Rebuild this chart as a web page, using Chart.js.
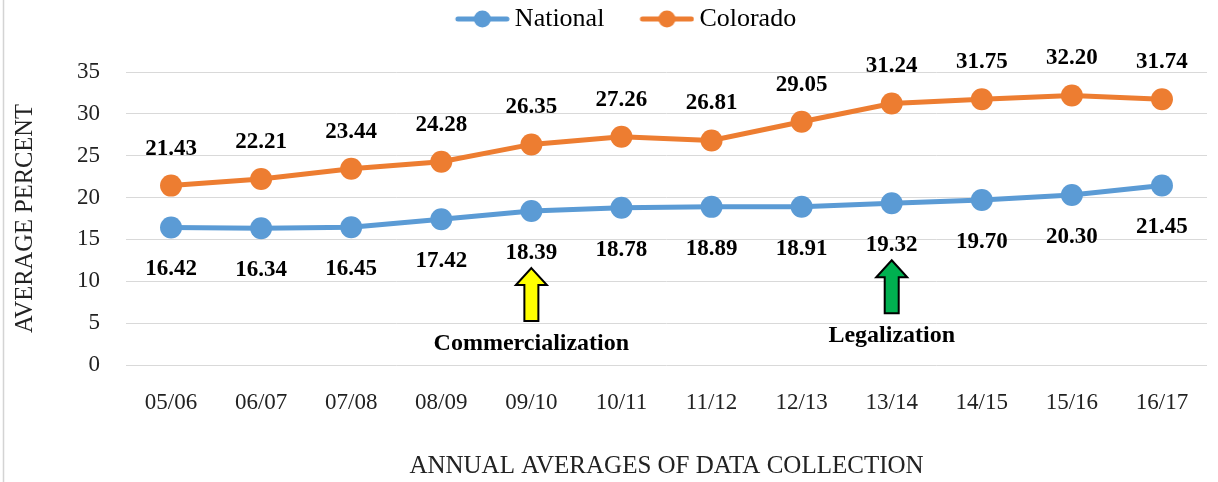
<!DOCTYPE html>
<html>
<head>
<meta charset="utf-8">
<script src="https://cdn.jsdelivr.net/npm/chart.js"></script>
<style>
  html, body { margin: 0; padding: 0; background: #ffffff; }
  #wrap { width: 1218px; height: 482px; }
  canvas { display: block; background: #ffffff; }
</style>
</head>
<body>
<div id="wrap"><canvas id="c" width="1218" height="482"></canvas></div>
<script>
const categories = ['05/06', '06/07', '07/08', '08/09', '09/10', '10/11', '11/12', '12/13', '13/14', '14/15', '15/16', '16/17'];
const nationalValues = [16.42, 16.34, 16.45, 17.42, 18.39, 18.78, 18.89, 18.91, 19.32, 19.70, 20.30, 21.45];
const coloradoValues = [21.43, 22.21, 23.44, 24.28, 26.35, 27.26, 26.81, 29.05, 31.24, 31.75, 32.20, 31.74];
const yMin = 0;
const yMax = 35;
const yStep = 5;
const annotationLabels = ['Commercialization', 'Legalization'];
const annotationCategories = ['09/10', '13/14'];

const SERIF = '"Liberation Serif", "Times New Roman", serif';
const BLUE = '#5B9BD5';
const ORANGE = '#ED7D31';
const annotationColors = ['#FFFF00', '#00B050'];

function makeLegendIcon(color) {
  const c = document.createElement('canvas');
  c.width = 96; c.height = 24;
  const g = c.getContext('2d');
  g.strokeStyle = color; g.lineWidth = 5; g.lineCap = 'round';
  g.beginPath(); g.moveTo(44, 12); g.lineTo(93, 12); g.stroke();
  g.fillStyle = color;
  g.beginPath(); g.arc(68.5, 12, 8.5, 0, Math.PI * 2); g.fill();
  return c;
}
const legendIcons = [makeLegendIcon(BLUE), makeLegendIcon(ORANGE)];

const decorPlugin = {
  id: 'decor',
  afterInit(chart) {
    const lg = chart.legend;
    if (lg && !lg._fixedHeight) {
      const orig = lg.fit;
      lg.fit = function () { orig.call(this); this.height = 68; };
      lg._fixedHeight = true;
    }
  },
  beforeDraw(chart) {
    const ctx = chart.ctx;
    ctx.save();
    ctx.strokeStyle = '#d4d4d4';
    ctx.lineWidth = 1.5;
    ctx.beginPath(); ctx.moveTo(3.5, 0); ctx.lineTo(3.5, chart.height); ctx.stroke();
    ctx.restore();
  },
  afterDatasetsDraw(chart) {
    const ctx = chart.ctx;
    ctx.save();
    ctx.font = 'bold 23px ' + SERIF;
    ctx.textAlign = 'center';
    ctx.textBaseline = 'middle';
    ctx.fillStyle = '#000000';
    chart.data.datasets.forEach((ds, i) => {
      const meta = chart.getDatasetMeta(i);
      const off = ds.label === 'Colorado' ? -37 : 42;
      meta.data.forEach((pt, j) => {
        ctx.fillText(ds.data[j].toFixed(2), pt.x, pt.y + off);
      });
    });
    // annotations (arrows + text) anchored to the National series points
    const natMeta = chart.getDatasetMeta(0);
    annotationCategories.forEach((cat, k) => {
      const idx = categories.indexOf(cat);
      const pt = natMeta.data[idx];
      if (!pt) return;
      const x = pt.x;
      const tip = pt.y + 57;
      const headB = tip + 17;
      const base = pt.y + 110;
      const hh = 15.5, hs = 7;
      ctx.beginPath();
      ctx.moveTo(x, tip);
      ctx.lineTo(x + hh, headB);
      ctx.lineTo(x + hs, headB);
      ctx.lineTo(x + hs, base);
      ctx.lineTo(x - hs, base);
      ctx.lineTo(x - hs, headB);
      ctx.lineTo(x - hh, headB);
      ctx.closePath();
      ctx.fillStyle = annotationColors[k];
      ctx.fill();
      ctx.lineWidth = 2;
      ctx.lineJoin = 'miter';
      ctx.strokeStyle = '#000000';
      ctx.stroke();
      ctx.fillStyle = '#000000';
      ctx.font = 'bold 24px ' + SERIF;
      ctx.fillText(annotationLabels[k], x, pt.y + 133);
    });
    ctx.restore();
  }
};

new Chart(document.getElementById('c'), {
  type: 'line',
  data: {
    labels: categories,
    datasets: [
      {
        label: 'National',
        data: nationalValues,
        borderColor: BLUE,
        backgroundColor: BLUE,
        pointBackgroundColor: BLUE,
        pointBorderColor: BLUE,
        borderWidth: 5,
        pointRadius: 11,
        pointBorderWidth: 0,
        tension: 0,
        fill: false
      },
      {
        label: 'Colorado',
        data: coloradoValues,
        borderColor: ORANGE,
        backgroundColor: ORANGE,
        pointBackgroundColor: ORANGE,
        pointBorderColor: ORANGE,
        borderWidth: 5,
        pointRadius: 11,
        pointBorderWidth: 0,
        tension: 0,
        fill: false
      }
    ]
  },
  options: {
    responsive: false,
    animation: false,
    layout: { padding: { top: 4, left: 0, right: 0, bottom: 0 } },
    plugins: {
      tooltip: { enabled: false },
      legend: {
        display: true,
        position: 'top',
        labels: {
          usePointStyle: true,
          pointStyleWidth: 80,
          padding: 2,
          color: '#000000',
          font: { family: SERIF, size: 26 },
          generateLabels(chart) {
            const items = Chart.defaults.plugins.legend.labels.generateLabels(chart);
            items.forEach(it => { it.pointStyle = legendIcons[it.datasetIndex]; });
            return items;
          }
        }
      }
    },
    scales: {
      x: {
        type: 'category',
        offset: true,
        grid: { display: false, drawTicks: false },
        border: { display: false },
        ticks: {
          color: '#222222',
          padding: 24,
          maxRotation: 0,
          autoSkip: false,
          font: { family: SERIF, size: 23 }
        },
        title: {
          display: true,
          text: 'ANNUAL AVERAGES OF DATA COLLECTION',
          color: '#222222',
          font: { family: SERIF, size: 25 },
          padding: { top: 0, bottom: 1 }
        },
        afterFit(scale) { scale.height = 117; }
      },
      y: {
        min: yMin,
        max: yMax,
        grid: { color: '#d9d9d9', lineWidth: 1, drawTicks: false },
        border: { display: false },
        ticks: {
          stepSize: yStep,
          color: '#222222',
          padding: 26,
          font: { family: SERIF, size: 23 }
        },
        title: {
          display: true,
          text: 'AVERAGE PERCENT',
          color: '#222222',
          font: { family: SERIF, size: 24.5 },
          padding: { top: 11, bottom: 0 }
        },
        afterFit(scale) { scale.width = 126; }
      }
    }
  },
  plugins: [decorPlugin]
});
</script>
</body>
</html>
